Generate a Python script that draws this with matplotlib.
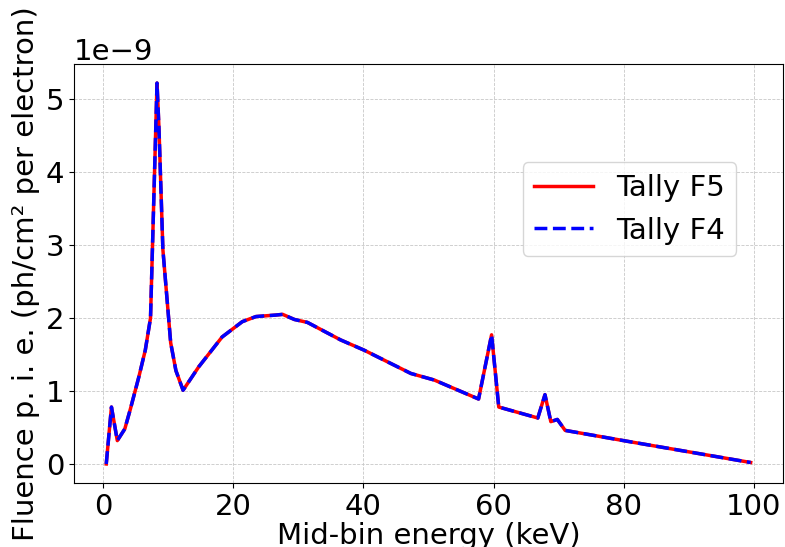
import matplotlib
matplotlib.use("Agg")
import matplotlib.pyplot as plt
import numpy as np

energy = [0.5, 1.3, 2.2, 3.35, 4.2, 5.5, 6.5, 7.3, 8.3, 8.6, 9.2, 10.4, 11.2, 12.3,
          14.7, 18.3, 21.4, 23.5, 26.5, 27.6, 29.4, 31.4, 36.5, 40.1, 47.3, 50.9,
          57.7, 59.7, 60.8, 66.8, 67.9, 68.8, 69.8, 71.0, 80.6, 99.5]
f5 = [0.0, 0.78, 0.32, 0.48, 0.75, 1.19, 1.56, 2.0, 5.22, 4.6, 2.94, 1.66, 1.28, 1.01,
      1.33, 1.74, 1.95, 2.02, 2.04, 2.05, 1.98, 1.94, 1.70, 1.56, 1.24, 1.15,
      0.89, 1.77, 0.78, 0.63, 0.95, 0.58, 0.61, 0.46, 0.31, 0.02]
f4 = list(f5)

scale = 1e-9
fs = 21
fig = plt.figure(figsize=(7.85, 5.47), dpi=100)
ax = fig.add_axes([0.0943, 0.117, 0.903, 0.766])
ax.plot(energy, np.array(f5) * scale, color="red", lw=2.5, label="Tally F5")
ax.plot(energy, np.array(f4) * scale, color="blue", lw=2.5, ls="--", label="Tally F4")
ax.grid(True, ls="--", lw=0.6, color="#c8c8c8")
ax.set_xticks([0, 20, 40, 60, 80, 100])
ax.tick_params(labelsize=fs)
ax.yaxis.get_offset_text().set_fontsize(fs)
ax.set_xlabel("Mid-bin energy (keV)", fontsize=fs, labelpad=1)
ax.set_ylabel("Fluence p. i. e. (ph/cm² per electron)", fontsize=fs, labelpad=4)
ax.legend(fontsize=fs, loc="upper right", bbox_to_anchor=(0.955, 0.80), frameon=True)
fig.savefig("out.png", dpi=100)
